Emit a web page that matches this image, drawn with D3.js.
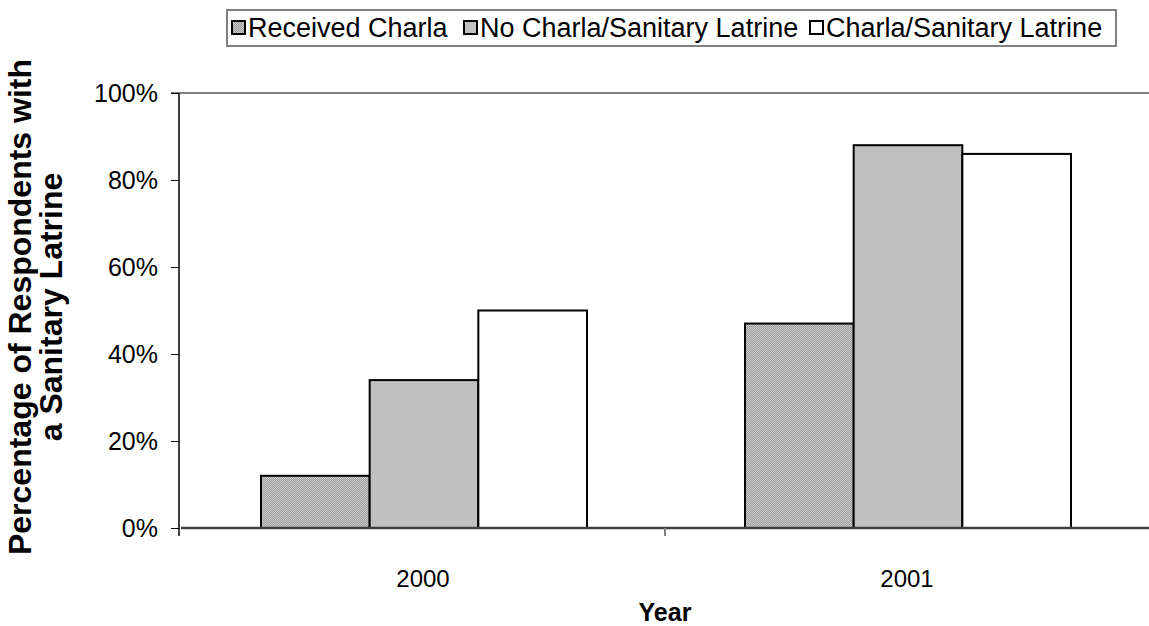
<!DOCTYPE html>
<html>
<head>
<meta charset="utf-8">
<script src="https://cdn.jsdelivr.net/npm/d3@7"></script>
<style>
  body { margin: 0; background: #fff; }
  text { font-family: "Liberation Sans", Arial, sans-serif; fill: #000; }
</style>
</head>
<body>
<div id="chart"></div>
<script>
// chart data
var years = ["2000", "2001"];
var seriesNames = ["Received Charla", "No Charla/Sanitary Latrine", "Charla/Sanitary Latrine"];
var received = [0.12, 0.47];
var noCharla = [0.34, 0.88];
var charla = [0.50, 0.86];
var yTicks = [0, 0.2, 0.4, 0.6, 0.8, 1.0];

var w = 1149, h = 626;
var svg = d3.select("#chart").append("svg")
    .attr("width", w)
    .attr("height", h);

var defs = svg.append("defs");
var pat = defs.append("pattern")
    .attr("id", "dots")
    .attr("width", 2).attr("height", 2)
    .attr("patternUnits", "userSpaceOnUse");
pat.append("rect").attr("width", 2).attr("height", 2).attr("fill", "#c8c8c8");
pat.append("rect").attr("width", 1).attr("height", 1).attr("fill", "#a0a0a0");
pat.append("rect").attr("x", 1).attr("y", 1).attr("width", 1).attr("height", 1).attr("fill", "#a0a0a0");

var fills = ["url(#dots)", "#c0c0c0", "#ffffff"];

var x0 = d3.scaleBand().domain(years).range([181, 1149]);
var x1 = d3.scaleBand().domain(d3.range(3)).range([80, x0.bandwidth() - 78]);
var y = d3.scaleLinear().domain([0, 1]).range([528, 93]);

// top border of plot area
svg.append("line")
    .attr("x1", 171).attr("x2", w)
    .attr("y1", y(1)).attr("y2", y(1))
    .attr("stroke", "#808080").attr("stroke-width", 2);

// bars
var data = years.map(function(yr, i) { return [received[i], noCharla[i], charla[i]]; });
var groups = svg.append("g").selectAll("g")
    .data(data)
    .enter().append("g")
    .attr("transform", function(d, i) { return "translate(" + x0(years[i]) + ",0)"; });

groups.selectAll("rect")
    .data(function(d) { return d; })
    .enter().append("rect")
    .attr("x", function(d, j) { return x1(j); })
    .attr("y", function(d) { return y(d); })
    .attr("width", x1.bandwidth())
    .attr("height", function(d) { return y(0) - y(d); })
    .attr("fill", function(d, j) { return fills[j]; })
    .attr("stroke", "#000")
    .attr("stroke-width", 2);

// y axis
var yAxis = svg.append("g")
    .attr("transform", "translate(179,0)")
    .call(d3.axisLeft(y).tickValues(yTicks).tickFormat(d3.format(".0%")).tickSize(8).tickPadding(13));
yAxis.select(".domain").attr("stroke", "#000").attr("stroke-width", 1.5)
    .attr("d", "M0," + y(1) + "V" + (y(0) + 8));
yAxis.selectAll(".tick line").attr("stroke", "#000");
yAxis.selectAll("text")
    .style("font-size", "25px").style("font-family", "Liberation Sans, Arial, sans-serif");

// x axis
var xAxis = svg.append("g")
    .attr("transform", "translate(0," + y(0) + ")")
    .call(d3.axisBottom(x0).tickSize(0).tickPadding(42));
xAxis.select(".domain").attr("stroke", "#404040").attr("stroke-width", 2.5)
    .attr("d", "M181,0H" + w);
xAxis.selectAll("text")
    .style("font-size", "24px").style("font-family", "Liberation Sans, Arial, sans-serif");
svg.append("line")
    .attr("x1", 665).attr("x2", 665)
    .attr("y1", y(0)).attr("y2", y(0) + 8)
    .attr("stroke", "#808080").attr("stroke-width", 2);

// axis titles
svg.append("text")
    .attr("x", 665).attr("y", 621)
    .attr("text-anchor", "middle")
    .style("font-size", "25px").style("font-weight", "bold")
    .text("Year");

var yt = svg.append("text")
    .attr("transform", "translate(31,307) rotate(-90)")
    .attr("text-anchor", "middle")
    .style("font-size", "32px").style("font-weight", "bold");
yt.append("tspan").attr("x", 0).attr("dy", 0).text("Percentage of Respondents with");
yt.append("tspan").attr("x", 0).attr("dy", 31).text("a Sanitary Latrine");

// legend
var leg = svg.append("g");
leg.append("rect")
    .attr("x", 227).attr("y", 10)
    .attr("width", 889).attr("height", 36)
    .attr("fill", "#fff").attr("stroke", "#808080").attr("stroke-width", 2);
var legX = [232, 464, 810];
seriesNames.forEach(function(name, i) {
  leg.append("rect")
      .attr("x", legX[i]).attr("y", 21)
      .attr("width", 13).attr("height", 13)
      .attr("fill", fills[i]).attr("stroke", "#000").attr("stroke-width", 2);
  leg.append("text")
      .attr("x", legX[i] + 16).attr("y", 37)
      .style("font-size", "27px")
      .text(name);
});
</script>
</body>
</html>
